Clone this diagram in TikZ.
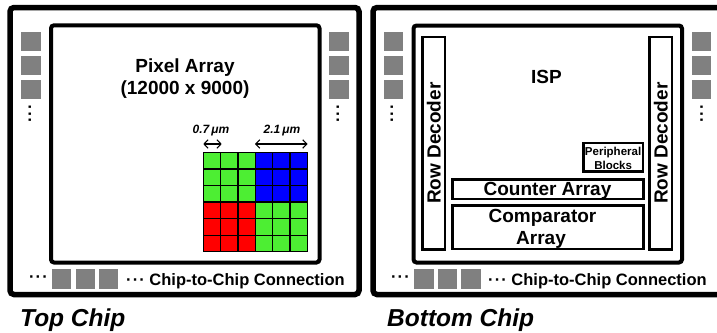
\documentclass[tikz,border=0pt]{standalone}
\usepackage{fontspec}
\setmainfont{Liberation Sans}
\usetikzlibrary{arrows.meta}
\definecolor{pxgreen}{RGB}{77,238,51}
\definecolor{pxblue}{RGB}{0,0,255}
\definecolor{pxred}{RGB}{255,0,0}
\definecolor{padgray}{RGB}{128,128,128}
% a row of three centred dots
\newcommand{\dotrow}{·\kern1.1pt·\kern1.1pt·}
\begin{document}
\begin{tikzpicture}[x=1pt,y=-1pt,
  outerframe/.style={line width=5.5pt, rounded corners=4pt},
  innerbox/.style={draw, line width=4pt, rounded corners=3pt, inner sep=0pt},
  block/.style={draw, line width=2.8pt, inner sep=0pt},
  pad/.style={fill=padgray, minimum size=19.5pt, inner sep=0pt},
  big/.style={font=\fontsize{19}{22}\selectfont\bfseries, inner sep=0pt},
  small/.style={font=\fontsize{11.5}{13}\selectfont\bfseries, inner sep=0pt},
  conn/.style={font=\fontsize{16.5}{19}\selectfont\bfseries, inner sep=0pt},
  dims/.style={font=\fontsize{12}{14}\selectfont\bfseries\itshape, inner sep=0pt},
  title/.style={font=\fontsize{24.5}{28}\selectfont\bfseries\itshape, inner sep=0pt},
  vdots/.style={conn, rotate=90},
  dimarrow/.style={line width=1.1pt, {Straight Barb[length=4pt,width=8.5pt]}-{Straight Barb[length=4pt,width=8.5pt]}}
]
\useasboundingbox (0,0) rectangle (717,332);
\clip (0,0) rectangle (717,332);

% ---------------- top chip ----------------
\draw[outerframe] (10,7.5) rectangle (359,294.5);
\node[innerbox, minimum width=268.5pt, minimum height=237.2pt] (topcore) at (185.25,143.9) {};
\node[big, anchor=base] (pxtitle) at (185,72.5) {Pixel Array};
\node[big, anchor=base] (pxsize) at (185,94) {(12000 x 9000)};

% Bayer pixel grid
\foreach \cx/\ry/\col in {0/0/pxgreen, 3/0/pxblue, 0/3/pxred, 3/3/pxgreen}{
  \foreach \i in {0,1,2}{
    \foreach \j in {0,1,2}{
      \fill[\col] ({203.3+(\cx+\i)*17.33},{152.3+(\ry+\j)*16.57}) rectangle ++(17.33,16.57);
    }
  }
}
\foreach \i in {0,...,6}{
  \draw[line width=1.3pt] ({203.3+\i*17.33},152.3) -- ({203.3+\i*17.33},251.72);
  \draw[line width=1.3pt] (203.3,{152.3+\i*16.57}) -- (307.28,{152.3+\i*16.57});
}

% pixel pitch dimensions
\coordinate (pitchL) at (203.3,144);
\coordinate (pitchR) at (221.7,144);
\coordinate (cellL) at (255,144);
\coordinate (cellR) at (307.5,144);
\draw[dimarrow] (pitchL) -- (pitchR);
\draw[dimarrow] (cellL) -- (cellR);
\node[dims, anchor=base] (pitchtxt) at (211,133.5) {0.7\,μm};
\node[dims, anchor=base] (celltxt) at (282,133.5) {2.1\,μm};

% side pads
\foreach \y [count=\k] in {41.7,65.7,89.3}{
  \node[pad] (tl\k) at (30.8,\y) {};
  \node[pad] (tr\k) at (339,\y) {};
}
\node[vdots] (tlmore) at (32,113.5) {\dotrow};
\node[vdots] (trmore) at (340,113.5) {\dotrow};

% chip-to-chip pads
\node[conn] (tbmore) at (38.5,279.3) {\dotrow};
\foreach \x [count=\k] in {61.5,85.3,108.3}{
  \node[pad] (tb\k) at (\x,279) {};
}
\node[conn, anchor=base west] (tbtxt) at (126,285) {\dotrow\ Chip-to-Chip Connection};

\node[title, anchor=base west] (toptitle) at (20,326) {Top Chip};

% ---------------- bottom chip ----------------
\draw[outerframe] (725,7.5) -- (373,7.5) -- (373,294.5) -- (725,294.5);
\node[innerbox, minimum width=268.5pt, minimum height=237pt] (botcore) at (547.75,144) {};
\node[big, anchor=base] (isp) at (546.5,83.3) {ISP};

\node[block, rotate=90, minimum width=212.5pt, minimum height=22.5pt, big] (rdecL) at (433.75,143.25) {Row Decoder};
\node[block, rotate=90, minimum width=212.5pt, minimum height=22.3pt, big] (rdecR) at (660.9,143.25) {Row Decoder};

\node[block, line width=2.5pt, minimum width=59.3pt, minimum height=28.6pt] (periph) at (613.1,157.2) {};
\node[small, anchor=base] (periph1) at (613.1,155.7) {Peripheral};
\node[small, anchor=base] (periph2) at (613.1,169.3) {Blocks};

\node[block, minimum width=190.6pt, minimum height=19.6pt] (counter) at (548,189.2) {};
\node[big, anchor=base] (countertxt) at (547.5,195.2) {Counter Array};

\node[block, minimum width=190.6pt, minimum height=43.2pt] (comparator) at (548,227.3) {};
\node[big, anchor=base] (comp1) at (542.5,222.7) {Comparator};
\node[big, anchor=base] (comp2) at (541,244.3) {Array};

\foreach \y [count=\k] in {41.7,65.7,89.3}{
  \node[pad] (bl\k) at (393.5,\y) {};
  \node[pad] (br\k) at (701.3,\y) {};
}
\node[vdots] (blmore) at (394,113.5) {\dotrow};
\node[vdots] (brmore) at (703.7,113.5) {\dotrow};

\node[conn] (bbmore) at (400.5,279.3) {\dotrow};
\foreach \x [count=\k] in {424,447.5,470.8}{
  \node[pad] (bb\k) at (\x,279) {};
}
\node[conn, anchor=base west] (bbtxt) at (488,285) {\dotrow\ Chip-to-Chip Connection};

\node[title, anchor=base west] (bottitle) at (387,326) {Bottom Chip};
\end{tikzpicture}
\end{document}
